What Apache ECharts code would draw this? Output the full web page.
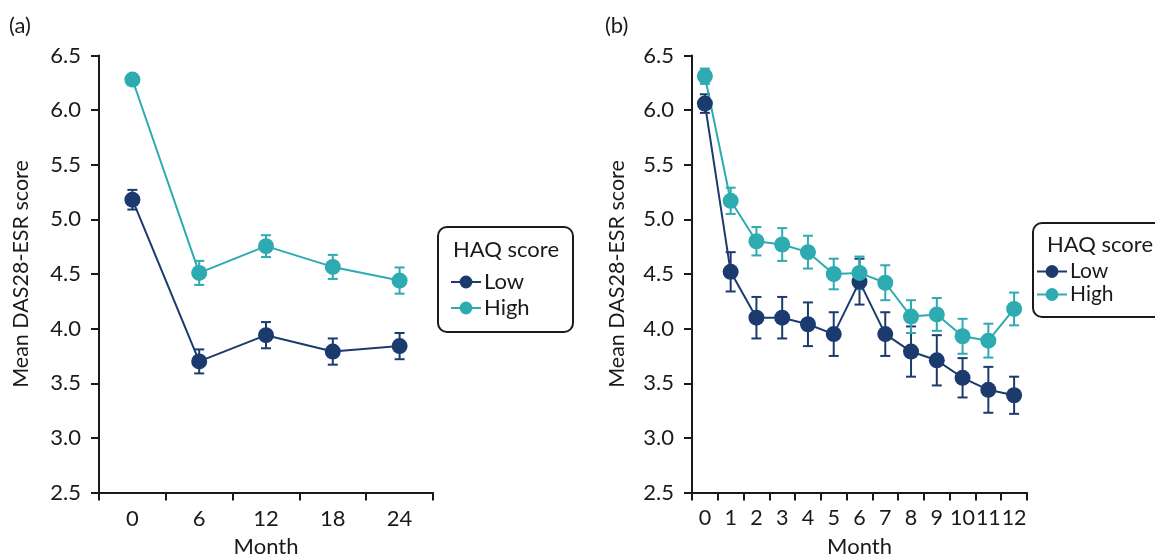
<!DOCTYPE html>
<html><head><meta charset="utf-8">
<script src="https://cdn.jsdelivr.net/npm/echarts@6/dist/echarts.min.js"></script>
<style>html,body{margin:0;padding:0;background:#fff}#c{width:1155px;height:557px}</style>
</head><body><div id="c"></div>
<script>
// Panel (a)
const monthsA = ['0', '6', '12', '18', '24'];
const lowA = [5.18, 3.70, 3.94, 3.79, 3.84];
const lowAErr = [0.09, 0.11, 0.12, 0.12, 0.12];
const highA = [6.28, 4.51, 4.755, 4.565, 4.44];
const highAErr = [0.05, 0.11, 0.10, 0.11, 0.12];
// Panel (b)
const monthsB = ['0','1','2','3','4','5','6','7','8','9','10','11','12'];
const lowB = [6.06, 4.52, 4.10, 4.10, 4.04, 3.95, 4.43, 3.95, 3.79, 3.71, 3.55, 3.44, 3.39];
const lowBErr = [0.085, 0.18, 0.19, 0.19, 0.20, 0.20, 0.21, 0.20, 0.23, 0.23, 0.18, 0.21, 0.17];
const highB = [6.31, 5.17, 4.80, 4.77, 4.70, 4.50, 4.51, 4.42, 4.11, 4.13, 3.93, 3.89, 4.18];
const highBErr = [0.07, 0.12, 0.13, 0.15, 0.15, 0.14, 0.15, 0.16, 0.15, 0.15, 0.16, 0.155, 0.15];
const yTicks = [2.5, 6.5, 0.5]; // min, max, interval

const NAVY = '#1b3b6f';
const TEAL = '#2dabb1';
const INK = '#1a1a1a';
const FONT = 'Lato';

const chart = echarts.init(document.getElementById('c'));

function errSeries(name, vals, errs, color, axisIdx) {
  return {
    type: 'custom', name: name, xAxisIndex: axisIdx, yAxisIndex: axisIdx, z: 2,
    silent: true,
    data: vals.map((v, i) => [i, v - errs[i], v + errs[i]]),
    renderItem: function (params, api) {
      const lo = api.coord([api.value(0), api.value(1)]);
      const hi = api.coord([api.value(0), api.value(2)]);
      const hw = 5;
      const st = { stroke: color, lineWidth: 2 };
      return { type: 'group', children: [
        { type: 'line', shape: { x1: lo[0], y1: lo[1], x2: hi[0], y2: hi[1] }, style: st },
        { type: 'line', shape: { x1: lo[0] - hw, y1: lo[1], x2: lo[0] + hw, y2: lo[1] }, style: st },
        { type: 'line', shape: { x1: hi[0] - hw, y1: hi[1], x2: hi[0] + hw, y2: hi[1] }, style: st }
      ]};
    }
  };
}
function lineSeries(name, vals, color, axisIdx) {
  return {
    type: 'line', name: name, xAxisIndex: axisIdx, yAxisIndex: axisIdx, z: 3,
    data: vals, symbol: 'circle', symbolSize: 16,
    lineStyle: { color: color, width: 2 }, itemStyle: { color: color },
    emphasis: { disabled: true }
  };
}
function xAxis(cats, idx, fs) {
  return {
    type: 'category', gridIndex: idx, data: cats, boundaryGap: true,
    name: 'Month', nameLocation: 'middle', nameGap: 43,
    nameTextStyle: { fontFamily: FONT, fontSize: 22, color: INK },
    axisLine: { lineStyle: { color: INK, width: 2 } },
    axisTick: { show: true, length: 8, lineStyle: { color: INK, width: 2 }, alignWithLabel: false },
    axisLabel: { fontFamily: FONT, fontSize: fs, color: INK, margin: 15, interval: 0 },
    splitLine: { show: false }
  };
}
function yAxis(idx, gap) {
  return {
    type: 'value', gridIndex: idx, min: yTicks[0], max: yTicks[1], interval: yTicks[2],
    name: 'Mean DAS28-ESR score', nameLocation: 'middle', nameRotate: 90, nameGap: gap,
    nameTextStyle: { fontFamily: FONT, fontSize: 21.5, color: INK },
    axisLine: { show: true, lineStyle: { color: INK, width: 2 } },
    axisTick: { show: true, length: 8, lineStyle: { color: INK, width: 2 } },
    axisLabel: { fontFamily: FONT, fontSize: 22, color: INK, margin: 18,
      formatter: v => v.toFixed(1) },
    splitLine: { show: false }
  };
}

chart.setOption({
  animation: false,
  grid: [
    { left: 99, top: 55.5, width: 334, height: 437, outerBoundsMode: 'none', containLabel: false },
    { left: 692, top: 55.5, width: 335, height: 437, outerBoundsMode: 'none', containLabel: false }
  ],
  xAxis: [xAxis(monthsA, 0, 22), xAxis(monthsB, 1, 21.5)],
  yAxis: [yAxis(0, 67), yAxis(1, 64)],
  legend: [
    { orient: 'vertical', left: 450, top: 271, padding: 0, itemGap: 4, itemWidth: 30, itemHeight: 16,
      data: ['Low', 'High'], selectedMode: false,
      textStyle: { fontFamily: FONT, fontSize: 22, color: INK, padding: [0, 0, 0, -2] } },
    { orient: 'vertical', left: 1036, top: 261, padding: 0, itemGap: 2, itemWidth: 30, itemHeight: 16,
      data: ['Low', 'High'], selectedMode: false,
      textStyle: { fontFamily: FONT, fontSize: 21, color: INK, padding: [0, 0, 0, -2] } }
  ],
  graphic: [
    { type: 'text', left: 9, top: 15, style: { text: '(a)', fontFamily: FONT, fontSize: 22, fill: INK } },
    { type: 'text', left: 605, top: 15, style: { text: '(b)', fontFamily: FONT, fontSize: 22, fill: INK } },
    { type: 'rect', shape: { x: 438, y: 227, width: 135, height: 105, r: 9 },
      style: { fill: 'none', stroke: INK, lineWidth: 2 } },
    { type: 'text', left: 453, top: 239, style: { text: 'HAQ score', fontFamily: FONT, fontSize: 22, fill: INK } },
    { type: 'rect', shape: { x: 1033, y: 223, width: 140, height: 94, r: 9 },
      style: { fill: 'none', stroke: INK, lineWidth: 2 } },
    { type: 'text', left: 1047, top: 234, style: { text: 'HAQ score', fontFamily: FONT, fontSize: 22, fill: INK } }
  ],
  series: [
    errSeries('errLowA', lowA, lowAErr, NAVY, 0),
    errSeries('errHighA', highA, highAErr, TEAL, 0),
    lineSeries('Low', lowA, NAVY, 0),
    lineSeries('High', highA, TEAL, 0),
    errSeries('errLowB', lowB, lowBErr, NAVY, 1),
    errSeries('errHighB', highB, highBErr, TEAL, 1),
    lineSeries('Low', lowB, NAVY, 1),
    lineSeries('High', highB, TEAL, 1)
  ]
});
</script>
</body></html>
